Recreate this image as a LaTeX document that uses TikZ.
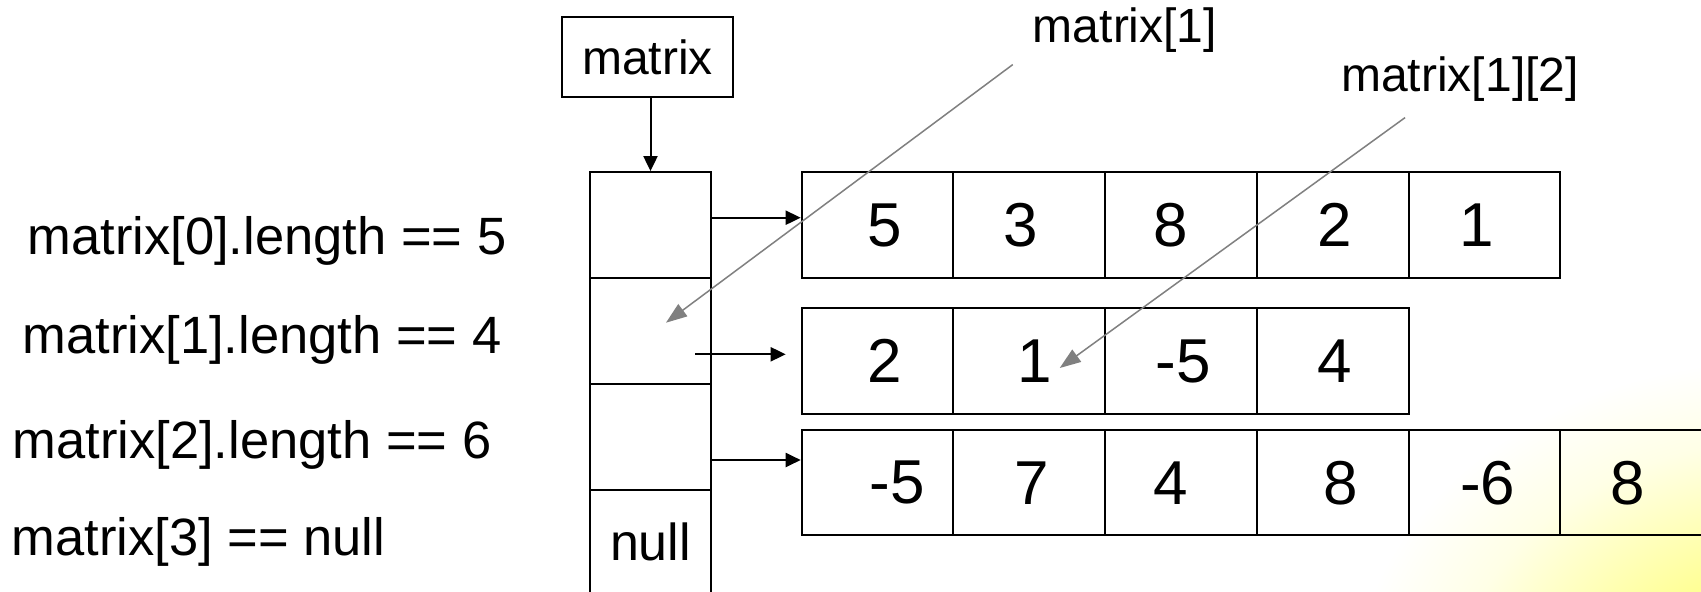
\documentclass[tikz,border=0pt]{standalone}
\usepackage{fontspec}
\setmainfont{Liberation Sans}
\usetikzlibrary{arrows.meta}

\definecolor{glowyellow}{RGB}{255,255,130}
\definecolor{calloutgray}{RGB}{128,128,128}
\pgfdeclareradialshading{glow}{\pgfpoint{0bp}{0bp}}{%
  color(0bp)=(glowyellow); color(7bp)=(glowyellow);
  color(13bp)=(glowyellow!60!white); color(19bp)=(glowyellow!20!white);
  color(25bp)=(white); color(50bp)=(white)}

% a cell value, its ink moved sideways by the given amount (pt)
\newcommand\cellval[2]{\kern#2pt#1\kern-#2pt}

\begin{document}
\begin{tikzpicture}[x=1pt,y=-1pt,
  cellbox/.style={draw, line width=2pt, minimum width=151.7pt, minimum height=106pt,
    inner sep=0pt, font=\fontsize{62}{70}\selectfont},
  slotbox/.style={draw, line width=2pt, minimum width=121pt, minimum height=105.8pt,
    inner sep=0pt, font=\fontsize{52}{60}\selectfont},
  namebox/.style={draw, line width=2pt, minimum width=171.6pt, minimum height=79.7pt,
    inner sep=0pt, font=\fontsize{48}{56}\selectfont},
  sidelabel/.style={inner sep=0pt, font=\fontsize{52.5}{60}\selectfont},
  toplabel/.style={inner sep=0pt, font=\fontsize{48}{56}\selectfont},
  ptr/.style={line width=2pt, -{Triangle[length=15pt,width=14pt]}},
  callout/.style={draw=calloutgray, line width=1.5pt,
    -{Triangle[length=21pt,width=15pt]}, color=calloutgray}]

\useasboundingbox (0,0) rectangle (1701,592);

% background with a soft glow in the lower right corner
\begin{scope}
  \clip (0,0) rectangle (1701,592);
  \fill[white] (0,0) rectangle (1701,592);
  \shade[shading=glow] (1780,700) ellipse [x radius=430pt, y radius=340pt];
\end{scope}

% side notes
\node[sidelabel] (len0) at (267,241)   {matrix[0].length == 5};
\node[sidelabel] (len1) at (262,339.5) {matrix[1].length == 4};
\node[sidelabel] (len2) at (252,444.8) {matrix[2].length == 6};
\node[sidelabel] (len3) at (198.4,542.4) {matrix[3] == null};

% the reference variable
\node[namebox] (mat) at (647.5,57) {matrix};

% the array of row references
\node[slotbox] (a0) at (650.5,225)   {};
\node[slotbox] (a1) at (650.5,330.8) {};
\node[slotbox] (a2) at (650.5,436.6) {};
\node[slotbox] (a3) at (650.5,542.4) {null};

% the rows
\foreach \v/\dx [count=\k from 0] in {5/7.6,3/-8.7,8/-9.8,2/2,1/-7.6}
  \node[cellbox] (r0c\k) at ({877.55+151.7*\k},225) {\cellval{\v}{\dx}};
\foreach \v/\dx [count=\k from 0] in {2/7.6,1/5.4,-5/2,4/2}
  \node[cellbox] (r1c\k) at ({877.55+151.7*\k},361) {\cellval{\v}{\dx}};
\foreach \v/\dx [count=\k from 0] in {-5/19.5,7/2,4/-9.8,8/7.6,-6/3.3,8/-8.7}
  \node[cellbox, minimum height=105.5pt] (r2c\k) at ({877.55+151.7*\k},482.7) {\cellval{\v}{\dx}};

% pointers
\draw[ptr] (a0.north |- mat.south) -- (a0.north);
\coordinate (p0) at ([yshift=7.3pt]a0.east);
\draw[ptr] (p0) -- (p0 -| r0c0.west);
\coordinate (p1) at ([shift={(44.5pt,-23.5pt)}]a1.center);
\coordinate (q1) at ([xshift=-15pt]p1 -| r1c0.west);
\draw[ptr] (p1) -- (q1);
\coordinate (p2) at ([yshift=-23.4pt]a2.east);
\draw[ptr] (p2) -- (p2 -| r2c0.west);

% callouts
\node[toplabel] (lab1)  at (1125,30) {matrix[1]};
\node[toplabel] (lab12) at (1460,79) {matrix[1][2]};
\coordinate (s1)  at ([shift={(-20pt,-12pt)}]lab1.south west);
\coordinate (t1)  at ([shift={(15.5pt,8.1pt)}]a1.center);
\coordinate (s12) at ([shift={(64pt,-16pt)}]lab12.south west);
\coordinate (t12) at ([shift={(30.5pt,-7pt)}]r1c1.center);
\draw[callout] (s1) -- (t1);
\draw[callout] (s12) -- (t12);
\end{tikzpicture}
\end{document}
